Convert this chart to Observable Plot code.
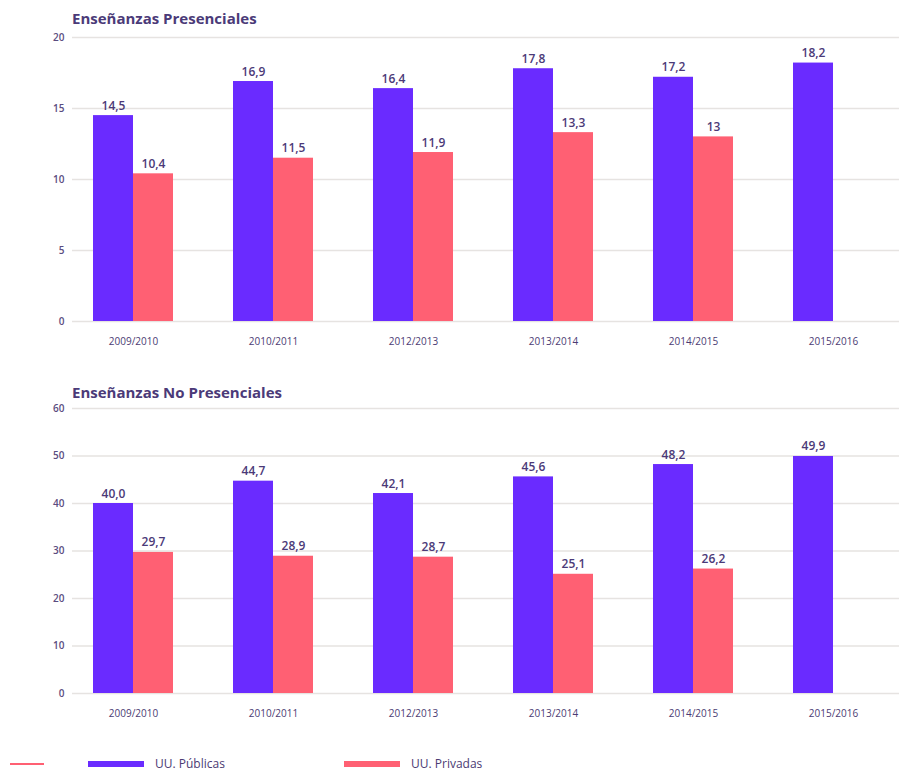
<!DOCTYPE html>
<html>
<head>
<meta charset="utf-8">
<script src="https://cdn.jsdelivr.net/npm/d3@7"></script>
<script src="https://cdn.jsdelivr.net/npm/@observablehq/plot@0.6"></script>
<style>
  html, body { margin: 0; padding: 0; background: #fff; }
  body { width: 899px; height: 771px; position: relative; overflow: hidden; font-family: "Open Sans", sans-serif; color: #4b3b73; }
  .title { position: absolute; left: 72px; font-size: 15px; line-height: 18px; font-weight: 700; color: #4b3a78; }
  .chart { position: absolute; left: 0; }
  .legend { position: absolute; left: 0; top: 755px; width: 899px; height: 16px; font-size: 12px; }
  .legend .it { position: absolute; }
</style>
</head>
<body>
<div class="title" style="top:9px">Enseñanzas Presenciales</div>
<div class="chart" id="c1" style="top:27px"></div>
<div class="title" style="top:383px">Enseñanzas No Presenciales</div>
<div class="chart" id="c2" style="top:398px"></div>
<div class="legend">
  <div class="it" style="left:10px;top:8px;width:34px;height:1.5px;background:#ff6073"></div>
  <div class="it" style="left:88px;top:6px;width:56px;height:6px;background:#6a2bff"></div>
  <div class="it" style="left:155px;top:1px;line-height:16px">UU. Públicas</div>
  <div class="it" style="left:344px;top:6px;width:56px;height:6px;background:#ff6073"></div>
  <div class="it" style="left:411px;top:1px;line-height:16px">UU. Privadas</div>
</div>
<script>
const years = ["2009/2010", "2010/2011", "2012/2013", "2013/2014", "2014/2015", "2015/2016"];
const presPublicas = [14.5, 16.9, 16.4, 17.8, 17.2, 18.2];
const presPrivadas = [10.4, 11.5, 11.9, 13.3, 13, null];
const noPresPublicas = [40.0, 44.7, 42.1, 45.6, 48.2, 49.9];
const noPresPrivadas = [29.7, 28.9, 28.7, 25.1, 26.2, null];
const presTicks = [0, 5, 10, 15, 20];
const noPresTicks = [0, 10, 20, 30, 40, 50, 60];

const PURPLE = "#6a2bff";
const PINK = "#ff6073";
const TEXT = "#4b3a78";

function rows(vals) {
  return years.map((y, i) => ({year: y, value: vals[i]})).filter(d => d.value != null);
}

function chart(pub, priv, ticks, yMax, fmt, height) {
  return Plot.plot({
    width: 899,
    height: height,
    marginLeft: 72,
    marginRight: 0,
    marginTop: 10,
    marginBottom: 30,
    style: {fontFamily: "Open Sans", color: TEXT, background: "transparent", overflow: "visible"},
    x: {domain: years, range: [93, 873], paddingInner: 0.4286, paddingOuter: 0, label: null, tickSize: 0, tickPadding: 16},
    y: {domain: [0, yMax], ticks: ticks, label: null, tickSize: 0, tickPadding: 8},
    marks: [
      Plot.ruleY(ticks, {stroke: "#e6e3e1", strokeWidth: 1.5}),
      Plot.barY(rows(pub), {x: "year", y: "value", fill: PURPLE, insetRight: 40}),
      Plot.barY(rows(priv), {x: "year", y: "value", fill: PINK, insetLeft: 40}),
      Plot.text(rows(pub), {x: "year", y: "value", text: d => fmt(d.value), dx: -20, dy: -6, lineAnchor: "bottom", fontSize: 12, fontWeight: 600, fill: TEXT}),
      Plot.text(rows(priv), {x: "year", y: "value", text: d => fmt(d.value), dx: 20, dy: -6, lineAnchor: "bottom", fontSize: 12, fontWeight: 600, fill: TEXT}),
      Plot.axisY({ticks: ticks, tickSize: 0, tickPadding: 8, fontSize: 10, fontWeight: 600, fill: "#5a4c80", label: null}),
      Plot.axisX({tickSize: 0, tickPadding: 16, fontSize: 10, fill: "#4b3b73", label: null})
    ]
  });
}

const fmtPres = v => String(v).replace(".", ",");
const fmtNoPres = v => v.toFixed(1).replace(".", ",");

document.getElementById("c1").appendChild(chart(presPublicas, presPrivadas, presTicks, 20, fmtPres, 324));
document.getElementById("c2").appendChild(chart(noPresPublicas, noPresPrivadas, noPresTicks, 60, fmtNoPres, 325));
</script>
</body>
</html>
